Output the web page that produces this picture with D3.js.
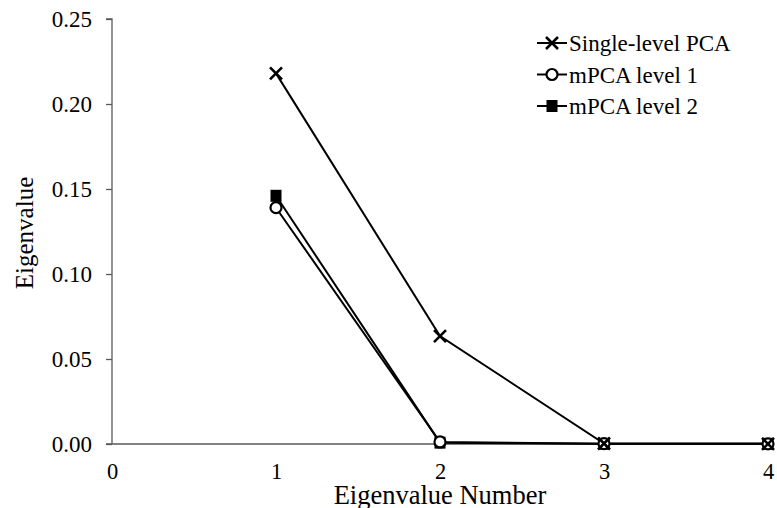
<!DOCTYPE html>
<html>
<head>
<meta charset="utf-8">
<script src="https://cdn.jsdelivr.net/npm/d3@7"></script>
<style>
  html, body { margin: 0; padding: 0; background: #fff; }
  svg text { font-family: "Liberation Serif", "Times New Roman", serif; fill: #000; }
</style>
</head>
<body>
<svg id="chart" width="777" height="508"></svg>
<script>
// Eigenvalue spectra for single-level PCA and the two mPCA levels
const eigenNumbers = [1, 2, 3, 4];
const singleLevelPCA = [0.218, 0.0635, 0.0003, 0.0001];
const mpcaLevel1 = [0.139, 0.0012, 0.0002, 0.0001];
const mpcaLevel2 = [0.146, 0.0008, 0.0001, 0.0001];
const xTicks = [0, 1, 2, 3, 4];
const yTicks = [0, 0.05, 0.10, 0.15, 0.20, 0.25];
const seriesNames = ["Single-level PCA", "mPCA level 1", "mPCA level 2"];

const svg = d3.select("#chart");
const margin = { left: 112, right: 9, top: 19, bottom: 64 };
const W = 777, H = 508;
const serif = '"Liberation Serif", "Times New Roman", serif';

const x = d3.scaleLinear().domain([0, 4]).range([margin.left, W - margin.right]);
const y = d3.scaleLinear().domain([0, 0.25]).range([H - margin.bottom, margin.top]);

const axisColor = "#595959";

// y axis with outward ticks
const yAxis = svg.append("g")
  .attr("transform", `translate(${x(0)},0)`)
  .call(d3.axisLeft(y).tickValues(yTicks).tickFormat(d3.format(".2f")).tickSize(6).tickPadding(14));
yAxis.attr("font-family", serif).attr("font-size", 23);
yAxis.select(".domain").attr("stroke", axisColor).attr("stroke-width", 1.3).attr("d", `M-6,${y(0.25)}H0V${y(0)}`);
yAxis.selectAll(".tick line").attr("stroke", axisColor).attr("stroke-width", 1.3);
yAxis.selectAll("text").attr("dy", "0.34em").style("font-family", serif);

// x axis without tick marks
const xAxis = svg.append("g")
  .attr("transform", `translate(0,${y(0)})`)
  .call(d3.axisBottom(x).tickValues(xTicks).tickFormat(d3.format("d")).tickSize(0).tickPadding(0));
xAxis.attr("font-family", serif).attr("font-size", 22.5);
xAxis.select(".domain").attr("stroke", axisColor).attr("stroke-width", 1.3).attr("d", `M${x(0) - 6},0H${x(4)}`);
xAxis.selectAll("text").attr("y", 35).attr("dy", 0).style("font-family", serif);

// axis titles
svg.append("text")
  .attr("x", (x(0) + x(4)) / 2).attr("y", 503.5)
  .attr("text-anchor", "middle").style("font-size", "26.5px").style("font-family", serif)
  .text("Eigenvalue Number");
svg.append("text")
  .attr("transform", `translate(33,233) rotate(-90)`)
  .attr("text-anchor", "middle").style("font-size", "25px").style("font-family", serif)
  .text("Eigenvalue");

const line = d3.line().x((d, i) => x(eigenNumbers[i])).y(d => y(d));

const series = [
  { name: seriesNames[0], values: singleLevelPCA, marker: "x" },
  { name: seriesNames[1], values: mpcaLevel1, marker: "circle" },
  { name: seriesNames[2], values: mpcaLevel2, marker: "square" }
];

function drawMarker(g, type, cx, cy) {
  if (type === "x") {
    const s = 6;
    g.append("path")
      .attr("d", `M${cx - s},${cy - s}L${cx + s},${cy + s}M${cx - s},${cy + s}L${cx + s},${cy - s}`)
      .attr("stroke", "#000").attr("stroke-width", 2.6).attr("fill", "none");
  } else if (type === "circle") {
    g.append("circle").attr("cx", cx).attr("cy", cy).attr("r", 5.5)
      .attr("fill", "#fff").attr("stroke", "#000").attr("stroke-width", 2.2);
  } else {
    g.append("rect").attr("x", cx - 5.5).attr("y", cy - 6).attr("width", 11).attr("height", 12)
      .attr("fill", "#000");
  }
}

// lines drawn first, then markers: level 2 squares, then level 1 circles, then crosses
series.forEach(s => {
  svg.append("path").datum(s.values)
    .attr("d", line).attr("fill", "none").attr("stroke", "#000").attr("stroke-width", 2);
});
const markerLayer = svg.append("g");
[series[2], series[1], series[0]].forEach(s => {
  s.values.forEach((v, i) => drawMarker(markerLayer, s.marker, x(eigenNumbers[i]), y(v)));
});

// legend
const legend = svg.append("g");
series.forEach((s, i) => {
  const ly = 43 + i * 31.5;
  legend.append("line").attr("x1", 537).attr("x2", 567).attr("y1", ly).attr("y2", ly)
    .attr("stroke", "#000").attr("stroke-width", 2);
  drawMarker(legend, s.marker, 552, ly);
  legend.append("text").attr("x", 569).attr("y", ly).attr("dy", "0.35em")
    .style("font-size", "23px").style("font-family", serif).text(s.name);
});
</script>
</body>
</html>
